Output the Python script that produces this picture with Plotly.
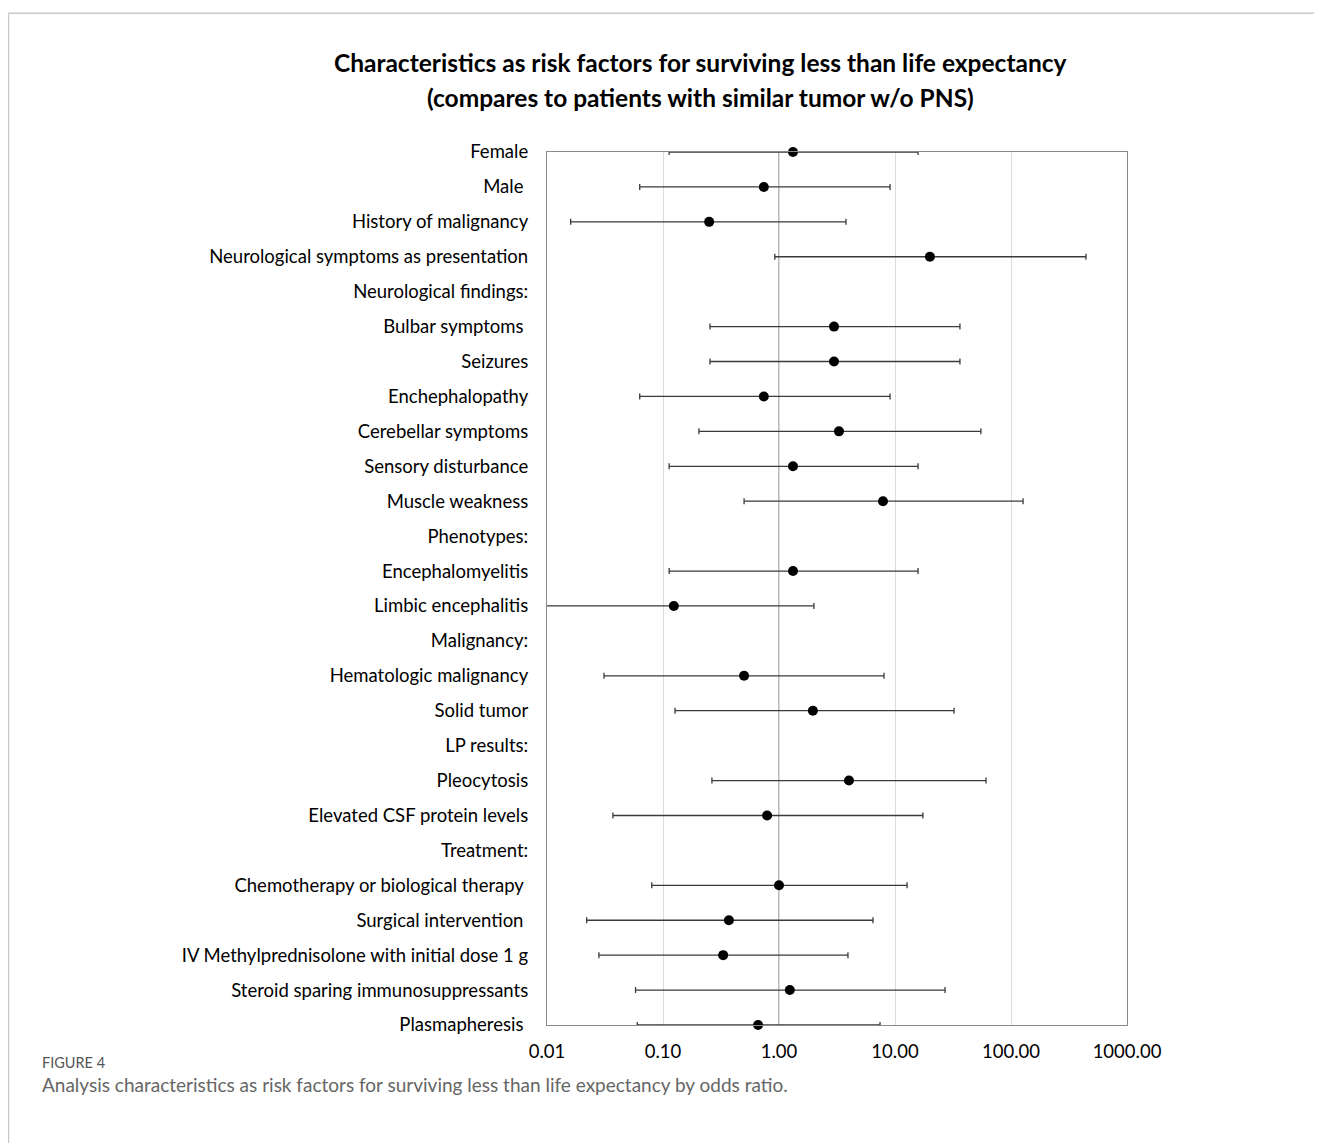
import plotly.graph_objects as go

labels = ["Female", "Male ", "History of malignancy", "Neurological symptoms as presentation",
          "Neurological findings:", "Bulbar symptoms ", "Seizures", "Enchephalopathy",
          "Cerebellar symptoms", "Sensory disturbance", "Muscle weakness", "Phenotypes:",
          "Encephalomyelitis", "Limbic encephalitis", "Malignancy:", "Hematologic malignancy",
          "Solid tumor", "LP results:", "Pleocytosis", "Elevated CSF protein levels",
          "Treatment:", "Chemotherapy or biological therapy ", "Surgical intervention ",
          "IV Methylprednisolone with initial dose 1 g", "Steroid sparing immunosuppressants",
          "Plasmapheresis "]
odds = [1.32, 0.74, 0.25, 20.0, None, 2.98, 2.98, 0.74, 3.29, 1.32, 7.88, None,
        1.32, 0.124, None, 0.50, 1.96, None, 4.01, 0.79, None, 1.0, 0.37, 0.33, 1.24, 0.66]
lower = [0.113, 0.063, 0.016, 0.92, None, 0.254, 0.254, 0.063, 0.204, 0.113, 0.50, None,
         0.113, 0.008, None, 0.031, 0.127, None, 0.264, 0.037, None, 0.080, 0.022, 0.028, 0.058, 0.060]
upper = [15.8, 9.06, 3.78, 443, None, 36.3, 36.3, 9.06, 55, 15.8, 127, None,
         15.8, 2.0, None, 8.04, 32.3, None, 60.9, 17.4, None, 12.7, 6.46, 3.93, 27, 7.43]
x_ticks = [0.01, 0.1, 1, 10, 100, 1000]
x_ticktext = ["0.01", "0.10", "1.00", "10.00", "100.00", "1000.00"]

rows = list(range(len(labels)))
xs, ys, ep, em = [], [], [], []
for i, (o, lo, hi) in enumerate(zip(odds, lower, upper)):
    if o is None:
        continue
    xs.append(o); ys.append(i); ep.append(hi - o); em.append(o - lo)

FONT = "Lato"
fig = go.Figure()
fig.add_trace(go.Scatter(
    x=xs, y=ys, mode="markers",
    marker=dict(size=1, color="rgba(0,0,0,0)"),
    error_x=dict(type="data", symmetric=False, array=ep, arrayminus=em,
                 color="#3a3a3a", thickness=1.3, width=3),
    cliponaxis=True, hoverinfo="skip", showlegend=False))
fig.add_trace(go.Scatter(
    x=xs, y=ys, mode="markers",
    marker=dict(size=10, color="black"),
    cliponaxis=False, showlegend=False))

fig.add_shape(type="line", xref="x", yref="paper", x0=1, x1=1, y0=0, y1=1,
              line=dict(color="#8a8a8a", width=1.2), layer="below")
# outer figure frame (top and left edges)
fig.add_shape(type="line", xref="paper", yref="paper", x0=-0.929, x1=1.36, y0=1.159, y1=1.159,
              line=dict(color="#c8c8c8", width=1.5))
fig.add_shape(type="line", xref="paper", yref="paper", x0=-0.9285, x1=-0.9285, y0=1.159, y1=-0.15,
              line=dict(color="#c8c8c8", width=1.5))

fig.update_layout(
    width=1322, height=1143,
    margin=dict(l=539, r=203, t=144, b=126),
    paper_bgcolor="white", plot_bgcolor="white",
    font=dict(family=FONT, color="black", size=18.5),
    xaxis=dict(type="log", range=[-2, 3], tickvals=x_ticks, ticktext=x_ticktext,
               showgrid=True, gridcolor="#dcdcdc", gridwidth=1,
               showline=True, linecolor="#8a8a8a", linewidth=1.2, mirror=True,
               ticks="", ticklabelstandoff=10, zeroline=False,
               tickfont=dict(size=18.5, family=FONT)),
    yaxis=dict(range=[25, 0], tickvals=rows, ticktext=labels,
               showgrid=False, zeroline=False, showline=True, linecolor="#8a8a8a",
               linewidth=1.2, mirror=True, ticks="", ticklabelstandoff=14,
               tickfont=dict(size=18.5, family=FONT)),
)

fig.add_annotation(xref="paper", yref="paper", x=0.264, y=1.103, xanchor="center", yanchor="middle",
                   text="<b>Characteristics as risk factors for surviving less than life expectancy</b>",
                   showarrow=False, font=dict(size=24.5, family=FONT, color="black"))
fig.add_annotation(xref="paper", yref="paper", x=0.264, y=1.063, xanchor="center", yanchor="middle",
                   text="<b>(compares to patients with similar tumor w/o PNS)</b>",
                   showarrow=False, font=dict(size=24.5, family=FONT, color="black"))
fig.add_annotation(xref="paper", yref="paper", x=-0.874, y=-0.0424, xanchor="left", yanchor="middle",
                   text="FIGURE 4", showarrow=False, font=dict(size=14.5, family=FONT, color="#555555"))
fig.add_annotation(xref="paper", yref="paper", x=-0.874, y=-0.0687, xanchor="left", yanchor="middle",
                   text="Analysis characteristics as risk factors for surviving less than life expectancy by odds ratio.",
                   showarrow=False, font=dict(size=19, family=FONT, color="#666666"))

fig.write_html("out.html")
